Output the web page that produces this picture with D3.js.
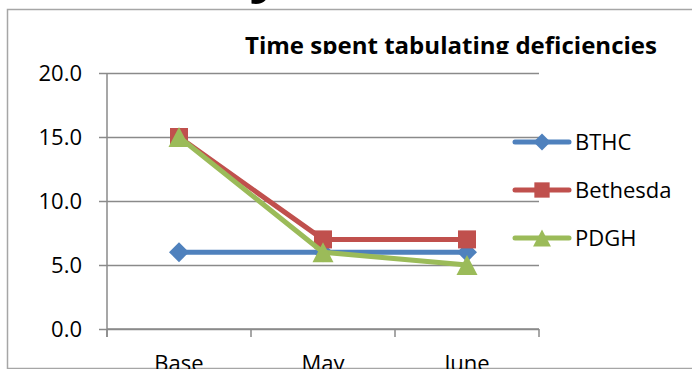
<!DOCTYPE html>
<html>
<head>
<meta charset="utf-8">
<script src="https://cdn.jsdelivr.net/npm/d3@7"></script>
<style>
  html, body { margin: 0; padding: 0; background: #fff; }
  svg { display: block; }
  text { font-family: "Open Sans", "Liberation Sans", sans-serif; fill: #000; }
</style>
</head>
<body>
<svg id="chart" width="692" height="371"></svg>
<script>
// Data
const categories = ["Base", "May", "June"];
const bthc = [6, 6, 6];
const bethesda = [15, 7, 7];
const pdgh = [15, 6, 5];
const yTicks = [0, 5, 10, 15, 20];
const seriesNames = ["BTHC", "Bethesda", "PDGH"];
const chartTitle = "Time spent tabulating deficiencies";

const series = [
  { name: seriesNames[0], values: bthc, color: "#4F81BD", shape: "diamond" },
  { name: seriesNames[1], values: bethesda, color: "#C0504D", shape: "square" },
  { name: seriesNames[2], values: pdgh, color: "#9BBB59", shape: "triangle" }
];

const svg = d3.select("#chart");
const gridColor = "#8a8a8a";

// Plot area
const plot = { left: 107, right: 539, top: 73, bottom: 329 };
const x = d3.scaleBand().domain(categories).range([plot.left, plot.right]).padding(0);
const y = d3.scaleLinear().domain([0, 20]).range([plot.bottom, plot.top]);
const cx = c => x(c) + x.bandwidth() / 2;

// Everything sits inside the chart frame, clipped at its lower edge
svg.append("clipPath").attr("id", "frameClip")
  .append("rect").attr("x", 0).attr("y", 0).attr("width", 692).attr("height", 369);
const root = svg.append("g").attr("clip-path", "url(#frameClip)");

// Heading above the frame, mostly outside the page
root.append("text")
  .attr("x", 266).attr("y", -10)
  .attr("text-anchor", "middle")
  .style("font-size", "58px").style("font-weight", "bold")
  .text("y");

// Chart frame
root.append("rect")
  .attr("x", 7.5).attr("y", 9.5).attr("width", 720).attr("height", 359)
  .attr("fill", "#fff").attr("stroke", "#a6a6a6").attr("stroke-width", 1.5);

// Title, cut off at the top of the plot region
svg.append("clipPath").attr("id", "titleClip")
  .append("rect").attr("x", 0).attr("y", 0).attr("width", 692).attr("height", 54);
root.append("text")
  .attr("clip-path", "url(#titleClip)")
  .attr("x", 245).attr("y", 54)
  .attr("textLength", 412).attr("lengthAdjust", "spacingAndGlyphs")
  .style("font-size", "23px").style("font-weight", "bold")
  .text(chartTitle);

// Horizontal gridlines with left tick marks and value labels
const yAxis = d3.axisLeft(y)
  .tickValues(yTicks)
  .tickFormat(d3.format(".1f"))
  .tickSizeInner(-(plot.right - plot.left))
  .tickSizeOuter(0)
  .tickPadding(0);
const gy = root.append("g").attr("transform", `translate(${plot.left},0)`).call(yAxis);
gy.select(".domain").remove();
gy.selectAll(".tick line").attr("stroke", gridColor).attr("stroke-width", 1.5);
gy.selectAll(".tick").append("line")
  .attr("x1", -8).attr("x2", 0)
  .attr("stroke", gridColor).attr("stroke-width", 1.5);
gy.selectAll(".tick text")
  .attr("x", -25).attr("dy", "0.36em")
  .style("font-size", "22px").style("font-family", "'Open Sans', sans-serif")
  .attr("fill", "#000");

// Vertical axis line
root.append("line")
  .attr("x1", plot.left).attr("x2", plot.left)
  .attr("y1", plot.top).attr("y2", plot.bottom + 8)
  .attr("stroke", gridColor).attr("stroke-width", 1.5);

// Category axis: labels centred in each band, tick marks on band edges
const xAxis = d3.axisBottom(x).tickSize(0).tickPadding(0);
const gx = root.append("g").attr("transform", `translate(0,${plot.bottom})`).call(xAxis);
gx.select(".domain").remove();
gx.selectAll(".tick text")
  .attr("y", 42).attr("dy", 0)
  .style("font-size", "22px").style("font-family", "'Open Sans', sans-serif")
  .attr("fill", "#000");
const edges = [x(categories[0])].concat(categories.map(c => x(c) + x.bandwidth()));
root.append("g").selectAll("line").data(edges).join("line")
  .attr("x1", d => d).attr("x2", d => d)
  .attr("y1", plot.bottom).attr("y2", plot.bottom + 8)
  .attr("stroke", gridColor).attr("stroke-width", 1.5);
root.append("line")
  .attr("x1", plot.left).attr("x2", plot.right)
  .attr("y1", plot.bottom).attr("y2", plot.bottom)
  .attr("stroke", gridColor).attr("stroke-width", 1.5);

// Marker shapes, centred on their point
function markerPath(shape, s) {
  const h = s / 2;
  if (shape === "diamond") return `M0,${-h}L${h},0L0,${h}L${-h},0Z`;
  if (shape === "square") return `M${-h * 0.9},${-h * 0.9}H${h * 0.9}V${h * 0.9}H${-h * 0.9}Z`;
  return `M0,${-h}L${h * 1.05},${h}L${-h * 1.05},${h}Z`;
}

const line = d3.line().x((d, i) => cx(categories[i])).y(d => y(d));

series.forEach(s => {
  const g = root.append("g");
  g.append("path")
    .attr("d", line(s.values))
    .attr("fill", "none").attr("stroke", s.color)
    .attr("stroke-width", 5).attr("stroke-linejoin", "round").attr("stroke-linecap", "round");
  g.selectAll("path.m").data(s.values).join("path")
    .attr("class", "m")
    .attr("transform", (d, i) => `translate(${cx(categories[i])},${y(d)})`)
    .attr("d", markerPath(s.shape, 20))
    .attr("fill", s.color);
});

// Legend
const legend = root.append("g");
const legendY = d3.scalePoint().domain(seriesNames).range([142, 238]);
series.forEach(s => {
  const ly = legendY(s.name);
  legend.append("line")
    .attr("x1", 515).attr("x2", 569).attr("y1", ly).attr("y2", ly)
    .attr("stroke", s.color).attr("stroke-width", 5).attr("stroke-linecap", "round");
  legend.append("path")
    .attr("transform", `translate(542,${ly})`)
    .attr("d", markerPath(s.shape, 17))
    .attr("fill", s.color);
  legend.append("text")
    .attr("x", 575).attr("y", ly).attr("dy", "0.36em")
    .style("font-size", "22px")
    .text(s.name);
});
</script>
</body>
</html>
